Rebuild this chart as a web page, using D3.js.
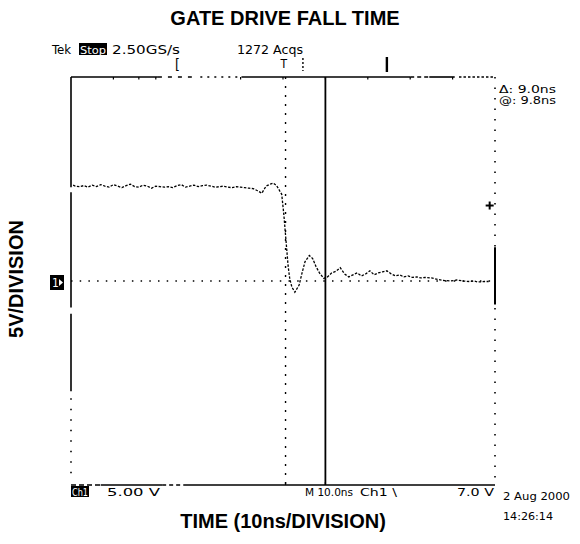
<!DOCTYPE html>
<html><head><meta charset="utf-8">
<script src="https://cdn.jsdelivr.net/npm/d3@7"></script>
<style>
html,body{margin:0;padding:0;background:#fff;}
svg text{fill:#000;}
.scope{font-family:"DejaVu Sans Condensed","DejaVu Sans",sans-serif;font-size:12px;}
.lbl{font-family:"Liberation Sans",Arial,sans-serif;font-weight:bold;}
</style></head>
<body>
<svg id="c" width="580" height="544"></svg>
<script>
// ---- data ----
const title = "GATE DRIVE FALL TIME";
const xLabel = "TIME (10ns/DIVISION)";
const yLabel = "5V/DIVISION";
const timeDomain = [-50, 50];   // ns (10 ns/div, 10 div)
const voltDomain = [-20, 20];   // V  (5 V/div, 8 div)
const sampleTimes = [-49.5,-49,-48,-47,-46,-45,-44,-43,-42,-41,-40,-39,-38,-37,-36,-35,-34,-33,-32,-31,-30,-29,-28,-27,-26,-25,-24,-23,-22,-21,-20,-19,-18,-17,-16,-15,-14,-13,-12,-11,-10,-9,-8,-7,-6,-5,-4.5,-4,-3,-2.3,-1.5,-0.8,-0.3,0.2,0.5,0.8,1.2,1.6,2.1,2.8,3.8,4.5,5.2,6.2,7.0,7.8,8.6,9.6,10.5,11.5,12.5,13.5,14.5,15.5,16.5,17.5,18.5,19.5,20.5,21.5,22.5,23.5,24.5,25.5,26.5,27.5,28.5,29.5,30.5,31.5,32.5,33.5,35,36.5,38,39.5,41,42.5,44,45,46,47.5,48.5];
const sampleVolts = [9.4,9.3,9.25,9.35,9.2,9.4,9.25,9.45,9.3,9.2,9.45,9.3,9.15,9.35,9.5,9.25,9.2,9.4,9.3,9.1,9.3,9.25,9.2,9.25,9.15,9.35,9.45,9.2,9.3,9.4,9.25,9.35,9.4,9.3,9.2,9.25,9.3,9.2,9.15,9.25,9.2,9.15,9.1,9.05,8.85,8.6,8.95,9.3,9.5,9.6,9.35,8.85,8.5,6.5,5.0,3.5,1.5,0.2,-0.6,-1.1,-0.4,0.8,1.9,2.5,2.2,1.4,0.8,0.25,0.4,0.8,0.95,1.3,0.7,0.4,0.6,0.8,0.5,0.7,1.0,0.6,0.8,0.9,1.0,0.7,0.5,0.6,0.4,0.5,0.35,0.4,0.3,0.35,0.3,0.15,0.05,0.0,0.1,0.0,-0.05,0.0,-0.1,-0.05,-0.05];
const cursorTime = 10.0;
const triggerLevel = 7.4;
const topStatus = ["Tek", "Stop", "2.50GS/s", "1272 Acqs"];
const cursorReadout = ["\u0394: 9.0ns", "@: 9.8ns"];
const bottomStatus = ["Ch1", "5.00 V", "M 10.0ns", "Ch1 \\", "7.0 V"];
const dateStamp = ["2 Aug 2000", "14:26:14"];

// ---- drawing ----
const svg = d3.select("#c");
const L = 71, R = 495, T = 77, B = 485;
const x = d3.scaleLinear().domain(timeDomain).range([L, R]);
const y = d3.scaleLinear().domain(voltDomain).range([B, T]);
const g = svg.append("g");

const seg = (x1,y1,x2,y2,dash,w)=>g.append("line").attr("x1",x1).attr("y1",y1).attr("x2",x2).attr("y2",y2)
  .attr("stroke","#000").attr("stroke-width",w||1.6).attr("stroke-dasharray",dash||null);
const X = t=>x(t), Y = v=>y(v);
// left edge
seg(X(-50),Y(20),X(-50),Y(9.2));
seg(X(-50),Y(8.7),X(-50),Y(-2.6));
seg(X(-50),Y(-3.2),X(-50),Y(-10.8));
seg(X(-50),Y(-11.5),X(-50),Y(-19),"1.5,9");
// bottom edge
seg(X(-50),Y(-20),X(-43),Y(-20),"5,3");
seg(X(-43),Y(-20),X(-28.5),Y(-20));
seg(X(-28.5),Y(-20),X(-23.5),Y(-20),"4,3");
seg(X(-23.5),Y(-20),X(50),Y(-20));
// top edge
seg(X(-50),Y(20),X(-29.5),Y(20));
seg(X(-29.5),Y(20),X(-21.5),Y(20),"4,6");
seg(X(-19.5),Y(20),X(-10),Y(20),"2,5");
seg(X(-9.8),Y(20),X(30),Y(20));
seg(X(30),Y(20),X(34.5),Y(20),"4,3");
seg(X(34.5),Y(20),X(40.5),Y(20));
seg(X(41.5),Y(20),X(50),Y(20),"2.5,2");
// right edge
seg(X(50),Y(20),X(50),Y(-20),"1.5,9");
seg(X(50),Y(3.3),X(50),Y(-2.3),null,2);
// top-edge ticks
[-40,-34,-30,-10,0,10,20,30,40].forEach(t=>seg(X(t),Y(20),X(t),Y(20)+2.5,null,1.2));
// bottom-edge ticks
[0.6,10].forEach(t=>seg(X(t),Y(-20),X(t),Y(-20)-3,null,1.2));
// graticule centre lines
seg(X(-50),Y(0),X(50),Y(0),"1.5,7.2",1.4);
seg(X(0.6),Y(20),X(0.6),Y(-20),"2,7",1.4);

// waveform
const pts = sampleTimes.map((t,i)=>[t, sampleVolts[i]]);
g.append("path").datum(pts)
  .attr("d", d3.line().x(d=>x(d[0])).y(d=>y(d[1])))
  .attr("fill","none").attr("stroke","#000").attr("stroke-width",1.3)
  .attr("stroke-dasharray","2.5,1.5");

// cursor
seg(X(cursorTime),Y(20),X(cursorTime),Y(-20),null,1.8);

// top record markers
const mk = svg.append("g").attr("class","scope");
mk.append("text").attr("x",X(-25.5)).attr("y",69).attr("font-size",14).text("[");
mk.append("text").attr("x",X(-0.6)).attr("y",68).attr("font-size",12).text("T");
seg(X(4.7),Y(20)-19,X(4.7),Y(20)-6,"2,2",1.4);
seg(X(24.5),Y(20)-20,X(24.5),Y(20)-5,null,2.4);
// trace ground marker
svg.append("rect").attr("x",50).attr("y",275).attr("width",14).attr("height",15).attr("fill","#000");
svg.append("text").attr("x",52).attr("y",287).attr("class","scope").style("fill","#fff").attr("font-size",11).text("1");
svg.append("path").attr("d","M59,279 L63,282.5 L59,286 Z").attr("fill","#fff");
// trigger level marker
const tx = X(47.8)+4, ty = Y(triggerLevel);
seg(tx-4,ty,tx+4,ty,null,2);
seg(tx,ty-4,tx,ty+4,null,2);

// status text helper
const st = svg.append("g").attr("class","scope");
const txt = (s,x0,x1,yb,fs,col)=>st.append("text").attr("x",x0).attr("y",yb).attr("font-size",fs||12)
  .attr("textLength",x1-x0).attr("lengthAdjust","spacingAndGlyphs").style("fill",col||"#000").text(s);
// top status
txt(topStatus[0],52,71,54);
st.append("rect").attr("x",79).attr("y",43).attr("width",28).attr("height",12).attr("fill","#000");
txt(topStatus[1],80,106,53.5,11,"#fff");
txt(topStatus[2],112,180,54);
txt(topStatus[3],237,303,54);
// cursor readout
txt(cursorReadout[0],499,556,93,10.5);
txt(cursorReadout[1],499,556,104,10.5);
// bottom status
st.append("rect").attr("x",71).attr("y",486).attr("width",18).attr("height",11).attr("fill","#000");
txt(bottomStatus[0],72,88,495.5,11,"#fff");
txt(bottomStatus[1],107,160,496,11);
txt(bottomStatus[2],305,353,496,11);
txt(bottomStatus[3],360,397,496,11);
txt(bottomStatus[4],457,494,496,11);
txt(dateStamp[0],503,570,500,11);
txt(dateStamp[1],503,553,520,11);

// labels
svg.append("text").attr("class","lbl").attr("x",285).attr("y",25).attr("text-anchor","middle").attr("font-size",20).text(title);
svg.append("text").attr("class","lbl").attr("x",283).attr("y",528).attr("text-anchor","middle").attr("font-size",20).text(xLabel);
svg.append("text").attr("class","lbl").attr("transform","translate(23,279) rotate(-90)").attr("text-anchor","middle").attr("font-size",20).text(yLabel);
</script>
</body></html>
